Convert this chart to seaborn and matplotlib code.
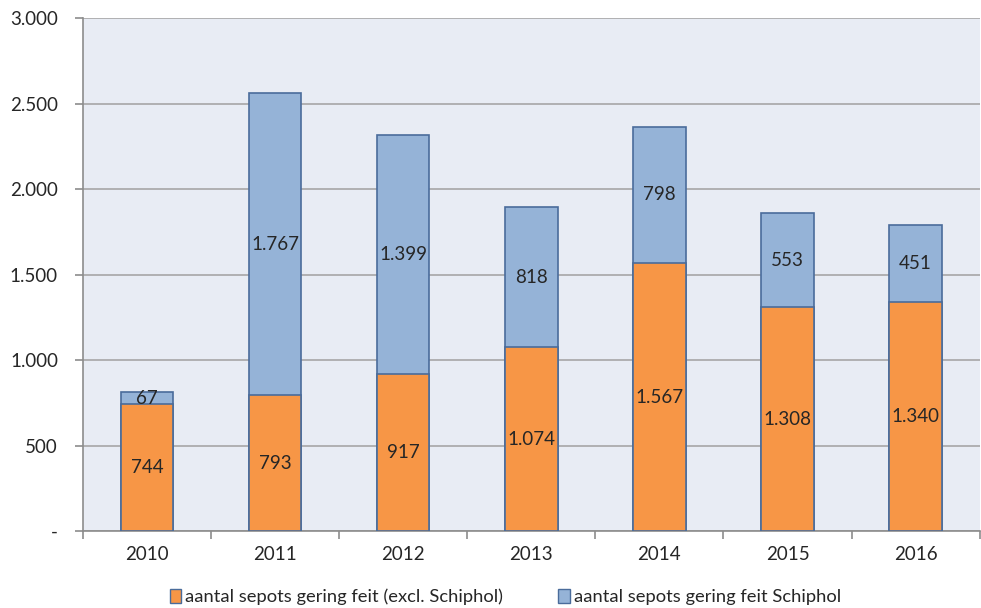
import pandas as pd
import matplotlib.pyplot as plt
import seaborn as sns
from matplotlib.patches import Patch
from matplotlib.ticker import FuncFormatter

# data
years = ["2010", "2011", "2012", "2013", "2014", "2015", "2016"]
excl_schiphol = [744, 793, 917, 1074, 1567, 1308, 1340]
schiphol = [67, 1767, 1399, 818, 798, 553, 451]

df = pd.DataFrame({"jaar": years, "excl": excl_schiphol, "schiphol": schiphol})
df["totaal"] = df["excl"] + df["schiphol"]

sns.set_style("white")
plt.rcParams["font.family"] = ["Lato", "DejaVu Sans"]

orange = "#F79646"
blue = "#95B3D7"
edge = "#4A6C9B"

fig = plt.figure(figsize=(9.81, 6.08), dpi=100)
ax = fig.add_axes([0.0846, 0.1266, 0.914, 0.8438])
ax.set_facecolor("#E8ECF4")

sns.barplot(data=df, x="jaar", y="totaal", color=blue, edgecolor=edge, linewidth=1.2,
            width=0.41, saturation=1, ax=ax, zorder=3)
sns.barplot(data=df, x="jaar", y="excl", color=orange, edgecolor=edge, linewidth=1.2,
            width=0.41, saturation=1, ax=ax, zorder=3)

# value labels in the middle of each segment
def nl(v):
    return f"{v:,}".replace(",", ".")

for i, row in df.iterrows():
    ax.text(i, row["excl"] / 2, nl(row["excl"]), ha="center", va="center", fontsize=13.5, zorder=5)
    ax.text(i, row["excl"] + row["schiphol"] / 2, nl(row["schiphol"]), ha="center", va="center",
            fontsize=13.5, zorder=5)

ax.set_ylim(0, 3000)
ax.set_xlim(-0.5, len(years) - 0.5)
ax.set_yticks(range(0, 3001, 500))
ax.yaxis.set_major_formatter(FuncFormatter(lambda v, p: "-" if v == 0 else nl(int(v))))
ax.yaxis.grid(True, color="#A6A6A6", linewidth=1.2, zorder=0)
ax.set_axisbelow(True)

# category ticks between the bars
ax.set_xticks([i - 0.5 for i in range(len(years) + 1)], minor=True)
ax.tick_params(axis="x", which="major", length=0, pad=11, labelsize=13.5)
ax.tick_params(axis="x", which="minor", length=6, color="#8C8C8C", width=1.2, direction="out")
ax.tick_params(axis="y", length=6, color="#8C8C8C", width=1.2, direction="out", pad=12, labelsize=13.5)
ax.xaxis.set_ticks_position("bottom")
ax.yaxis.set_ticks_position("left")

for s in ["top", "right"]:
    ax.spines[s].set_visible(False)
for s in ["left", "bottom"]:
    ax.spines[s].set_color("#8C8C8C")
    ax.spines[s].set_linewidth(1.2)

ax.set_xlabel("")
ax.set_ylabel("")

handles = [Patch(facecolor=orange, edgecolor=edge, label="aantal sepots gering feit (excl. Schiphol)"),
           Patch(facecolor=blue, edgecolor=edge, label="aantal sepots gering feit Schiphol")]
fig.legend(handles=handles, loc="center", bbox_to_anchor=(0.515, 0.018), ncol=2, frameon=False,
           fontsize=13.2, handlelength=0.65, handleheight=0.8, handletextpad=0.2, columnspacing=3.0)

plt.savefig("out.png", dpi=100)
